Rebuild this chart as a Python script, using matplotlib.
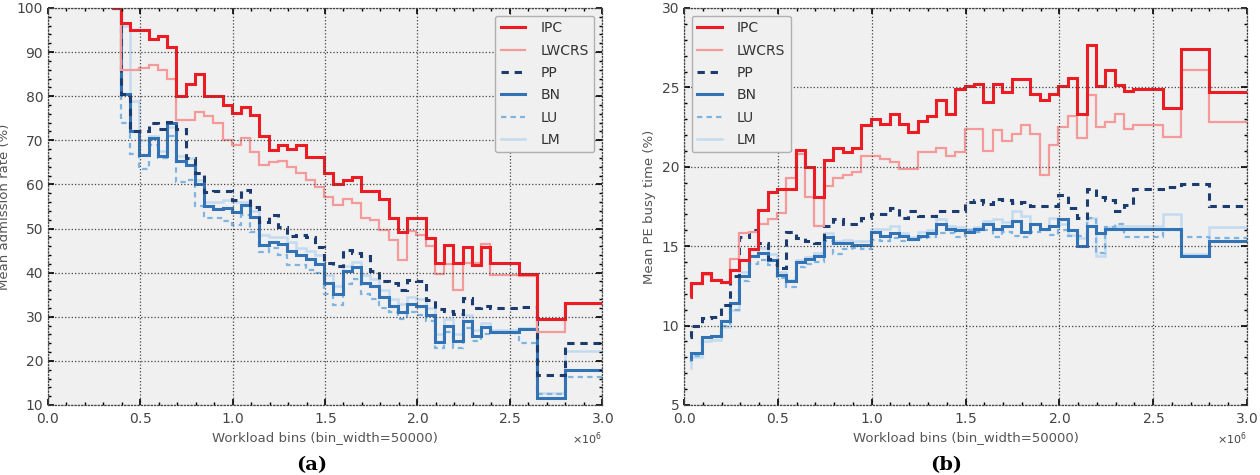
import numpy as np
import matplotlib
matplotlib.use('Agg')
import matplotlib.pyplot as plt
from matplotlib.ticker import MultipleLocator

bin_width = 50000
labels = ['IPC', 'LWCRS', 'PP', 'BN', 'LU', 'LM']

# (a) admission rate, bin edges (workload) and per-bin means
edges_a = np.r_[np.arange(345000, 2395001, bin_width), [2550000, 2650000, 2800000, 3000000]]
ipc_a = [100, 96.5, 95, 95, 93, 93.6, 91.2, 80.1, 82.7, 85, 80, 80, 78, 76.3, 77.5, 75.7, 71,
         67.8, 68.9, 68.1, 68.9, 66.3, 66.3, 62.5, 60.2, 61, 61.6, 58.4, 58.4, 56.6, 52.5, 49.3,
         52.3, 52.3, 47.8, 42.1, 46.3, 42.1, 45.9, 41.7, 45.9, 42.1, 39.8, 29.4, 33.2]
lwcrs_a = [100, 86, 86, 86.5, 87, 86, 84, 74.5, 74.5, 76.5, 75.5, 74, 70, 69, 70.5, 67.4, 64.4,
           65.1, 65.4, 64, 62.7, 61, 59.5, 57.2, 55.3, 56.8, 55.7, 52.3, 51.9, 49.7, 47.4, 42.9,
           49.5, 48.5, 46, 39.8, 42, 36.1, 42.1, 42.1, 46.5, 39.5, 39.2, 26.6, 33.0]
pp_a = [100, 80.6, 72, 72, 74, 72.5, 74.2, 72.5, 66, 62.5, 58.3, 58.6, 58.6, 56.5, 58.8, 54.9,
        51.4, 53, 50.3, 48.4, 48.5, 48, 45.9, 42.1, 41.4, 45.1, 44.4, 43.7, 40.3, 38.2, 37.6, 36,
        38.4, 38, 33.9, 31.7, 31.4, 30.6, 34.3, 32, 32.4, 31.9, 32.1, 16.8, 24]
bn_a = [100, 80.6, 72, 66.7, 70.5, 66.5, 74, 65.3, 64.5, 60, 55.1, 54.4, 54.6, 53.8, 55.3, 52.6,
        46.2, 47, 46.6, 45, 44, 43, 42, 37.6, 35.2, 40.3, 41.2, 37.6, 37, 34.5, 32.4, 31, 33,
        32.5, 30.3, 24.2, 28, 24.6, 29.1, 25.7, 27.6, 26.5, 27.2, 11.5, 17.9]
lu_a = [100, 74, 67, 63.5, 69, 66, 71, 60.5, 61, 55, 52.5, 52.5, 51.8, 50.8, 53, 49.3, 44.7,
        45.5, 44, 41.8, 41.8, 40.5, 40, 35.2, 32.6, 37.5, 38.5, 35.1, 34, 31.9, 31, 29.5, 31,
        30.5, 29, 23, 26.5, 23, 27.5, 24.5, 26, 26.3, 24, 12.6, 16.4]
lm_a = [100, 96, 79, 70, 71, 67.5, 73, 66.5, 66, 61, 56, 56, 56.5, 56, 56, 54, 48.5, 48, 48, 47,
        45.5, 45, 44, 39.5, 37, 41.5, 42.5, 39.5, 38.5, 36, 34, 33, 34.5, 34, 32, 26, 29.5, 26,
        30.5, 27, 28.5, 27, 27.5, 12.8, 22.3]

# (b) PE busy time
edges_b = np.r_[[30000, 35000], np.arange(95000, 2395001, bin_width),
                [2550000, 2650000, 2800000, 3000000]]
ipc_b = [11.8, 12.66, 13.29, 12.9, 12.75, 13.5, 14.1, 14.8, 17.3, 18.4, 18.6, 18.6, 21.07, 19.96,
         18.07, 20.4, 21.2, 20.9, 21.2, 22.6, 23.0, 22.7, 23.3, 22.7, 22.2, 22.9, 23.2, 24.2, 23.3,
         24.9, 25.06, 25.2, 24.1, 25.2, 24.7, 25.5, 25.5, 24.6, 24.2, 24.6, 25.06, 25.6, 23.3,
         27.7, 25.06, 26.1, 25.15, 24.8, 24.9, 23.7, 27.4, 24.7]
lwcrs_b = [11.8, 12.6, 13.2, 12.85, 12.7, 14.2, 15.8, 15.9, 16.4, 16.7, 17.1, 19.3, 20.8, 18.07,
           16.3, 18.8, 19.3, 19.5, 19.7, 20.7, 20.7, 20.5, 20.3, 19.85, 19.85, 20.9, 20.95, 21.2,
           20.7, 20.9, 22.4, 22.4, 21.0, 22.3, 21.6, 22.05, 22.6, 22.05, 19.5, 21.4, 22.5, 23.2,
           21.8, 24.5, 22.5, 22.8, 23.3, 22.4, 22.6, 21.9, 26.1, 22.8]
pp_b = [9.3, 10.0, 10.5, 10.55, 11.3, 13.1, 15.6, 16.0, 15.2, 14.2, 13.6, 15.9, 15.5, 15.3, 15.2,
        16.3, 16.7, 16.4, 16.4, 16.8, 17.0, 17.0, 17.4, 16.8, 17.2, 16.9, 16.9, 17.2, 17.2, 17.2,
        17.8, 17.9, 17.65, 18.0, 17.9, 17.7, 17.8, 17.5, 17.5, 17.5, 18.2, 17.4, 16.8, 18.6,
        18.1, 17.9, 17.2, 17.6, 18.6, 18.7, 18.9, 17.5]
bn_b = [7.9, 8.3, 9.3, 9.35, 10.3, 11.4, 13.1, 14.4, 14.6, 14.1, 13.2, 12.8, 14.0, 14.2, 14.4,
        15.6, 15.2, 15.2, 15.1, 15.1, 15.9, 15.65, 15.8, 15.65, 15.45, 15.65, 15.8, 16.4, 16.1,
        16.0, 15.9, 16.1, 16.4, 16.1, 16.3, 16.6, 15.9, 16.4, 16.1, 16.3, 16.7, 16.0, 15.0, 16.3,
        15.8, 16.1, 16.1, 16.1, 16.1, 16.1, 14.4, 15.35]
lu_b = [7.8, 8.1, 9.2, 9.3, 10.0, 11.0, 12.8, 13.9, 14.1, 13.8, 13.0, 12.4, 13.7, 13.9, 14.0,
        15.3, 14.5, 14.8, 14.9, 14.8, 15.4, 15.3, 15.5, 15.3, 15.4, 15.5, 15.6, 15.8, 15.8, 15.6,
        16.0, 15.9, 16.0, 15.55, 15.9, 15.65, 15.6, 15.9, 16.0, 15.7, 16.0, 15.65, 15.65, 16.8,
        14.6, 16.2, 16.4, 15.6, 15.6, 16.0, 15.6, 15.5]
lm_b = [7.3, 8.0, 9.0, 9.1, 9.9, 11.0, 13.4, 14.4, 14.9, 14.5, 13.4, 12.9, 14.1, 14.3, 14.6, 15.8,
        15.3, 15.4, 15.3, 15.3, 16.1, 16.1, 16.3, 15.8, 15.6, 15.9, 16.0, 16.7, 16.3, 16.2, 16.1,
        16.2, 16.6, 16.7, 16.5, 17.2, 16.9, 16.4, 16.1, 16.8, 16.4, 15.7, 15.5, 16.8, 14.4, 16.2,
        16.3, 16.3, 16.3, 17.0, 14.5, 16.2]

colors = ['#ec1c24', '#f59a9a', '#1c3b6e', '#3273b6', '#7db5e0', '#c3dbf1']
widths = [2.2, 1.6, 2.2, 2.2, 1.6, 1.8]
dashed = (0, (2.4, 1.9))
styles = ['-', '-', dashed, '-', dashed, '-']

plt.rcParams['font.family'] = 'DejaVu Sans'

fig = plt.figure(figsize=(12.6, 4.75), dpi=100)
ax1 = fig.add_axes([0.0381, 0.1474, 0.4397, 0.8358])
ax2 = fig.add_axes([0.5429, 0.1474, 0.4468, 0.8358])


def draw(ax, edges, series, ylim, ylabel, yminor, legend_loc):
    ax.set_facecolor('#f0f0f0')
    handles = []
    # light lines first so the darker ones sit on top
    for i in range(len(series) - 1, -1, -1):
        h = ax.stairs(series[i], edges, baseline=None, color=colors[i], lw=widths[i],
                      linestyle=styles[i], label=labels[i])
        handles.append(h)
    handles = handles[::-1]
    ax.set_xlim(0, 3000000)
    ax.set_ylim(*ylim)
    ax.xaxis.set_major_locator(MultipleLocator(500000))
    ax.xaxis.set_minor_locator(MultipleLocator(100000))
    ax.yaxis.set_minor_locator(MultipleLocator(yminor))
    ax.ticklabel_format(style='sci', axis='x', scilimits=(0, 0), useMathText=True)
    ax.xaxis.get_offset_text().set_fontsize(8)
    ax.xaxis.get_offset_text().set_color('#555555')
    ax.grid(True, which='major', color='#444444', linestyle=':', linewidth=0.9)
    for s in ax.spines.values():
        s.set_linestyle(':')
        s.set_linewidth(0.9)
        s.set_color('#444444')
    ax.tick_params(which='both', direction='in', top=True, right=True, colors='#444444',
                   labelsize=10)
    ax.tick_params(which='major', length=4, width=1.2, color='k')
    ax.tick_params(which='minor', length=2, width=1.0, color='k')
    ax.tick_params(axis='x', pad=5)
    ax.set_xlabel('Workload bins (bin_width=50000)', fontsize=9.5, color='#555555')
    ax.set_ylabel(ylabel, fontsize=9.5, color='#555555')
    leg = ax.legend(handles=handles, loc=legend_loc, fontsize=10, handlelength=1.75,
                    handletextpad=1.1, labelspacing=0.6, borderaxespad=0.55, fancybox=True,
                    framealpha=1.0)
    leg.get_frame().set_facecolor('#f0f0f0')
    leg.get_frame().set_edgecolor('#b0b0b0')
    for t in leg.get_texts():
        t.set_color('#333333')


draw(ax1, edges_a, [ipc_a, lwcrs_a, pp_a, bn_a, lu_a, lm_a], (10, 100),
     'Mean admission rate (%)', 2, 'upper right')
draw(ax2, edges_b, [ipc_b, lwcrs_b, pp_b, bn_b, lu_b, lm_b], (5, 30),
     'Mean PE busy time (%)', 1, 'upper left')

fig.text(312 / 1260, 1 - 456 / 475, '(a)', ha='center', va='top', fontsize=14,
         fontweight='bold', family='DejaVu Serif')
fig.text(946 / 1260, 1 - 456 / 475, '(b)', ha='center', va='top', fontsize=14,
         fontweight='bold', family='DejaVu Serif')

fig.savefig('out.png', dpi=100)
